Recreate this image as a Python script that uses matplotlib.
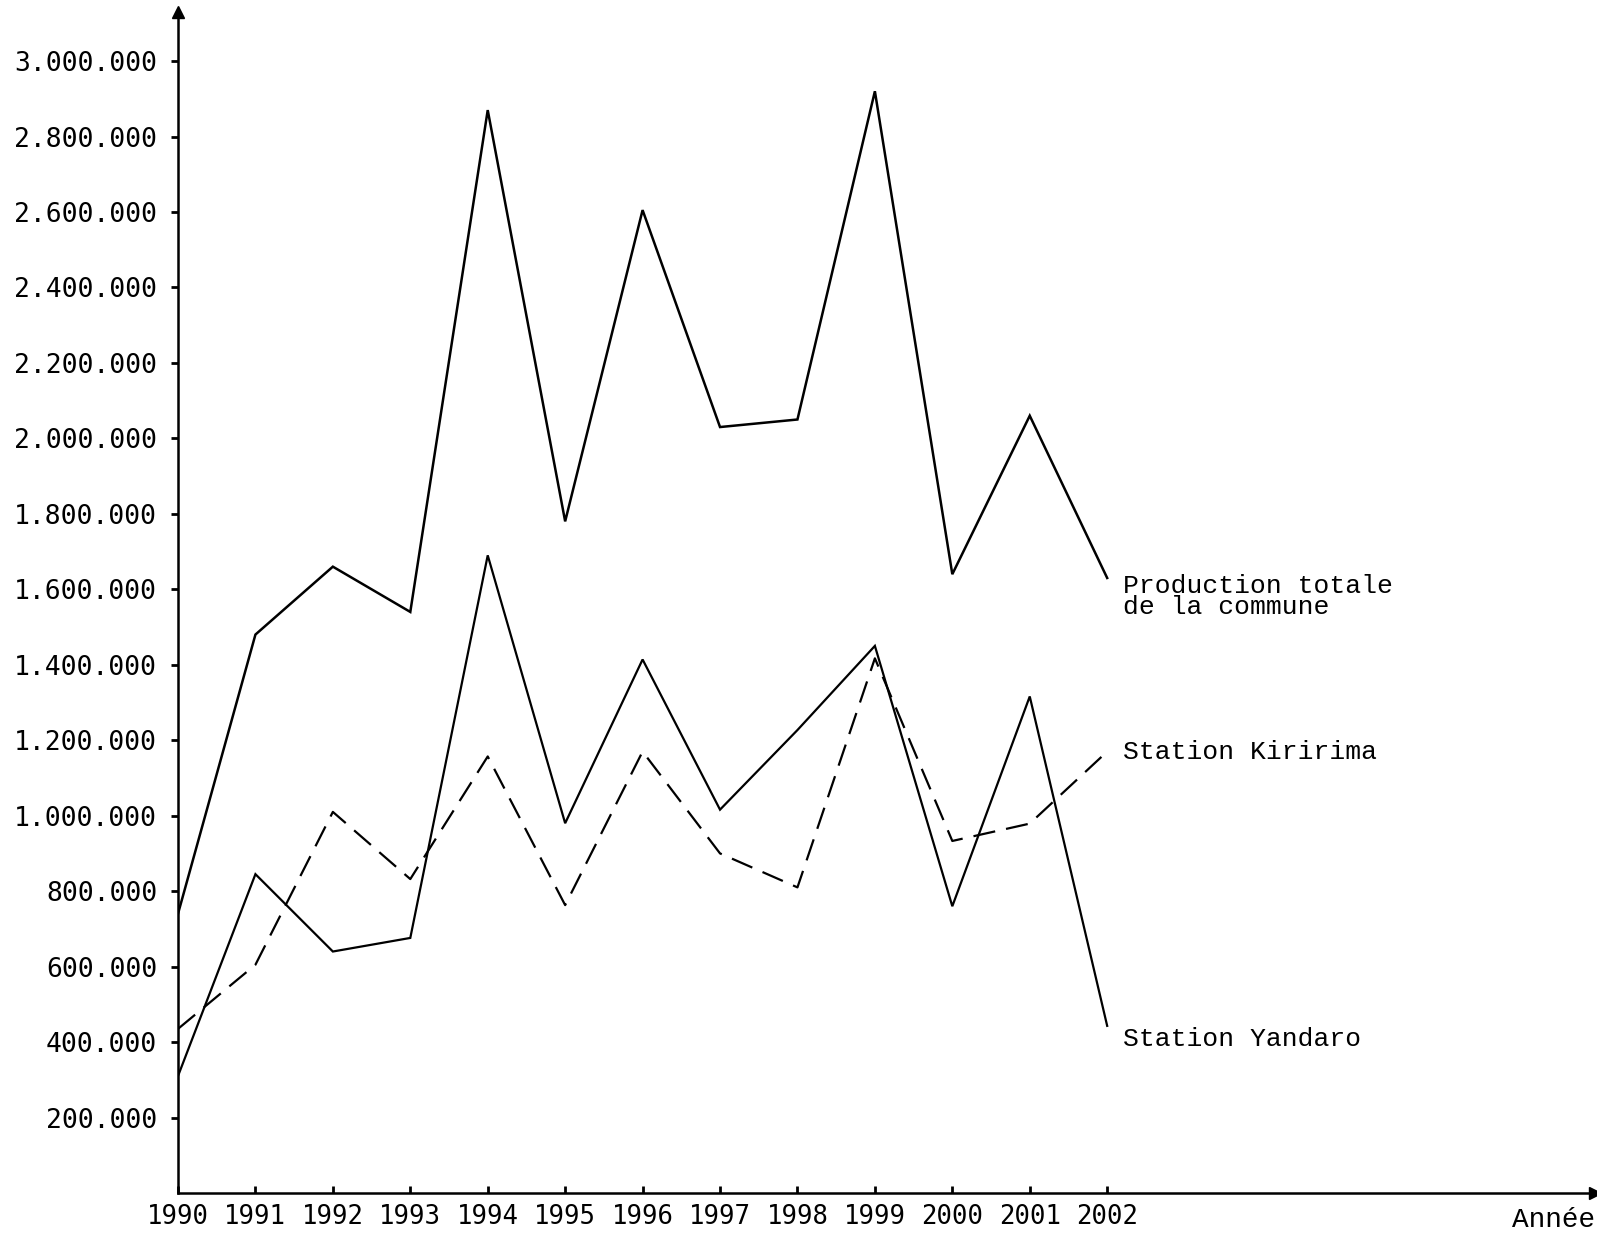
import numpy as np
import matplotlib
matplotlib.use("Agg")
import matplotlib.pyplot as plt

# data
years = [1990, 1991, 1992, 1993, 1994, 1995, 1996, 1997, 1998, 1999, 2000, 2001, 2002]
total = [740000, 1480000, 1660000, 1540000, 2870000, 1780000, 2605000, 2030000,
         2050000, 2920000, 1640000, 2060000, 1630000]
yandaro = [310000, 845000, 640000, 676000, 1690000, 980000, 1414000, 1016000,
           1227000, 1450000, 760000, 1316000, 443000]
kiririma = [435000, 605000, 1010000, 832000, 1157000, 763000, 1170000, 900000,
            810000, 1417000, 933000, 979000, 1170000]

ytick_vals = [200000 * i for i in range(1, 16)]
ytick_labels = ["200.000", "400.000", "600.000", "800.000", "1.000.000",
                "1.200.000", "1.400.000", "1.600.000", "1.800.000", "2.000.000",
                "2.200.000", "2.400.000", "2.600.000", "2.800.000", "3.000.000"]

W, H = 1597, 1236
fig = plt.figure(figsize=(W / 100, H / 100), dpi=100)
ax = fig.add_axes([178 / W, 1 - 1193 / H, (W - 180) / W, (1193 - 12) / H])

lw = 1.8
ax.plot(years, total, color="black", lw=lw, solid_joinstyle="miter")
ax.plot(years, yandaro, color="black", lw=lw - 0.2, solid_joinstyle="miter")
ax.plot(years, kiririma, color="black", lw=lw - 0.2, dashes=(10, 5))

ax.set_xlim(1990, 2008.3)
ax.set_ylim(0, 3130000)

for s in ["top", "right"]:
    ax.spines[s].set_visible(False)
for s in ["left", "bottom"]:
    ax.spines[s].set_linewidth(1.8)

# arrow heads at the axis ends
ax.plot(1, 0, ">k", ms=8, transform=ax.transAxes, clip_on=False)
ax.plot(0, 1, "^k", ms=8, transform=ax.transAxes, clip_on=False)

ax.set_yticks(ytick_vals)
ax.set_yticklabels(ytick_labels, family="DejaVu Sans Mono", fontsize=19)
ax.tick_params(axis="y", direction="out", length=5, width=2, pad=10)

ax.set_xticks(years)
ax.set_xticklabels([str(y) for y in years], family="DejaVu Sans Mono", fontsize=18.5)
ax.tick_params(axis="x", direction="in", length=5, width=2, pad=8)

ax.text(1.0, -0.012, "Année", transform=ax.transAxes, ha="right", va="top",
        family="Liberation Mono", fontsize=20)

lab = dict(family="Liberation Mono", fontsize=19, ha="left", va="center")
ax.text(2002.2, 1580000, "Production totale\nde la commune", linespacing=0.85, **lab)
ax.text(2002.2, 1168000, "Station Kiririma", **lab)
ax.text(2002.2, 408000, "Station Yandaro", **lab)

fig.savefig("out.png", dpi=100, facecolor="white")
